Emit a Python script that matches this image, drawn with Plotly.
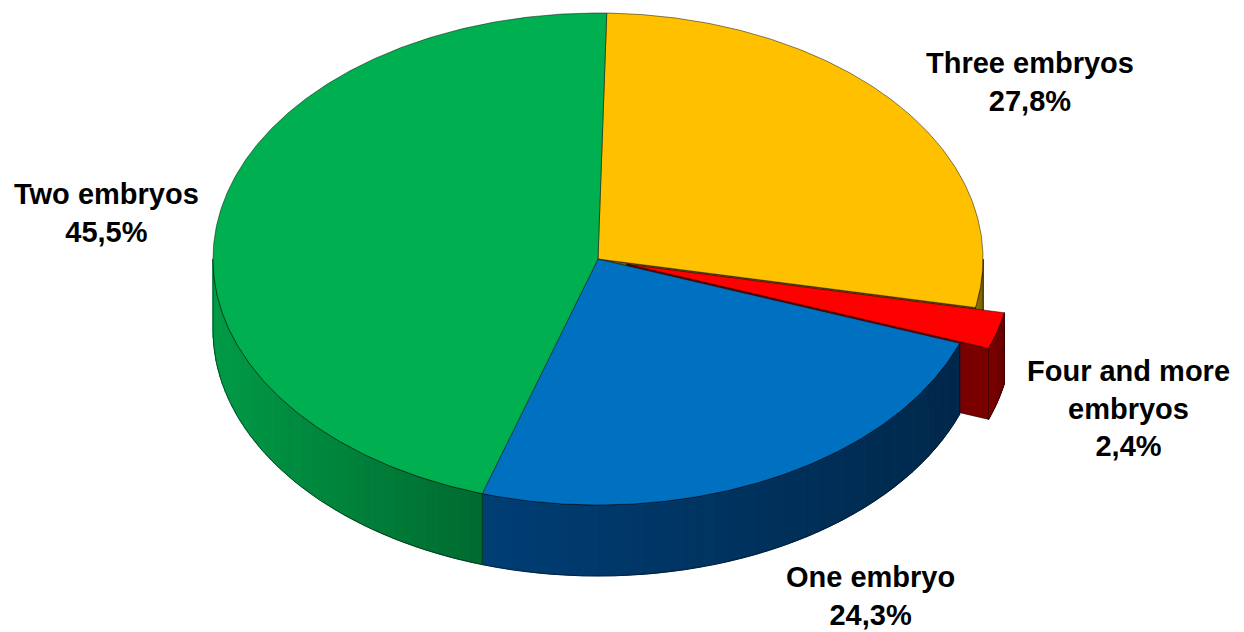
import numpy as np
import plotly.graph_objects as go

# ---- data ----
categories = ["Three embryos", "Four and more embryos", "One embryo", "Two embryos"]
values = [27.8, 2.4, 24.3, 45.5]
label_lines = [["Three embryos"], ["Four and more", "embryos"], ["One embryo"], ["Two embryos"]]

# ---- style ----
top_colors = ["#FFC000", "#FF0000", "#0070C0", "#00B050"]
side_light = ["#8F7400", "#7E0000", "#003E75", "#009A46"]
side_dark = ["#7A6200", "#660000", "#00284B", "#006A30"]
radial_colors = ["#6E5800", "#7A0000", "#002D55", "#007534"]
explode_px = [0, 30, 0, 0]
label_pos = [(1030, 82), (1128, 408), (870, 596), (106, 213)]

W, H = 1244, 632
PAD = 8  # page body margin
CX, CY, RX, RY, DEPTH = 598, 259, 385, 246, 71
START = 1.3
EDGE = "rgba(0,0,0,0.6)"

total = sum(values)
bounds = np.concatenate([[0], np.cumsum(values)]) / total * 360 + START


def hexrgb(h):
    h = h.lstrip("#")
    return np.array([int(h[i:i + 2], 16) for i in (0, 2, 4)], dtype=float)


def mix(c1, c2, f):
    c = hexrgb(c1) * (1 - f) + hexrgb(c2) * f
    return "rgb(%d,%d,%d)" % tuple(np.round(c).astype(int))


def arc(t0, t1, off, dz=0.0, n=120):
    t = np.radians(np.linspace(t0, t1, n))
    return CX + off[0] + RX * np.sin(t), CY + off[1] - RY * np.cos(t) + dz


fig = go.Figure()


def poly(xs, ys, fill, line=EDGE, lw=0.8):
    fig.add_trace(go.Scatter(x=list(xs) + [xs[0]], y=list(ys) + [ys[0]], mode="lines",
                             fill="toself", fillcolor=fill,
                             line=dict(color=line, width=lw), hoverinfo="skip",
                             showlegend=False))


def outline(xs, ys):
    fig.add_trace(go.Scatter(x=list(xs) + [xs[0]], y=list(ys) + [ys[0]], mode="lines",
                             line=dict(color=EDGE, width=0.8), hoverinfo="skip",
                             showlegend=False))


slices = []
for i in range(len(values)):
    t0, t1 = bounds[i], bounds[i + 1]
    tm = np.radians((t0 + t1) / 2)
    off = (explode_px[i] * np.sin(tm), -explode_px[i] * np.cos(tm) * RY / RX)
    slices.append((t0, t1, off))


def draw_radial(i, t):
    t0, t1, off = slices[i]
    ex, ey = arc(t, t, off, n=1)
    cx, cy = CX + off[0], CY + off[1]
    xs = [cx, ex[0], ex[0], cx]
    ys = [cy, ey[0], ey[0] + DEPTH, cy + DEPTH]
    poly(xs, ys, radial_colors[i])


def draw_side(i):
    t0, t1, off = slices[i]
    a, b = max(t0, 90), min(t1, 270)
    if b <= a:
        return
    nstrip = 40
    edges = np.linspace(a, b, nstrip + 1)
    xa, _ = arc(a, a, off, n=1)
    xb, _ = arc(b, b, off, n=1)
    xmin, xmax = min(xa[0], xb[0]), max(xa[0], xb[0])
    for k in range(nstrip):
        ux, uy = arc(edges[k], edges[k + 1], off, n=8)
        lx, ly = arc(edges[k + 1], edges[k], off, DEPTH, n=8)
        xm = np.mean(ux)
        f = 0 if xmax == xmin else (xm - xmin) / (xmax - xmin)
        col = mix(side_light[i], side_dark[i], f)
        poly(np.concatenate([ux, lx]), np.concatenate([uy, ly]), col, line=col, lw=1)
    ux, uy = arc(a, b, off)
    lx, ly = arc(b, a, off, DEPTH)
    outline(np.concatenate([ux, lx]), np.concatenate([uy, ly]))


def draw_top(i):
    t0, t1, off = slices[i]
    ax, ay = arc(t0, t1, off, n=max(10, int((t1 - t0) * 2)))
    xs = np.concatenate([[CX + off[0]], ax])
    ys = np.concatenate([[CY + off[1]], ay])
    poly(xs, ys, top_colors[i])


# painter's order: yellow, red (exploded), blue, green
draw_side(0)
draw_radial(0, slices[0][1])
draw_top(0)
draw_radial(1, slices[1][1])
draw_side(1)
draw_top(1)
draw_side(2)
draw_top(2)
draw_side(3)
draw_top(3)

# labels
for i in range(len(values)):
    pct = ("%.1f" % values[i]).replace(".", ",") + "%"
    txt = "<br>".join("<b>%s</b>" % s for s in label_lines[i] + [pct])
    fig.add_annotation(x=label_pos[i][0], y=label_pos[i][1], text=txt, showarrow=False,
                       xanchor="center", yanchor="middle", align="center",
                       font=dict(family="Liberation Sans, Arial, sans-serif", size=29,
                                 color="#000000"))

fig.update_layout(
    width=W - PAD, height=H - PAD, margin=dict(l=0, r=0, t=0, b=0),
    paper_bgcolor="white", plot_bgcolor="white",
    xaxis=dict(range=[PAD, W], visible=False, fixedrange=True),
    yaxis=dict(range=[H, PAD], visible=False, fixedrange=True),
    showlegend=False,
)
fig.write_html("out.html")
